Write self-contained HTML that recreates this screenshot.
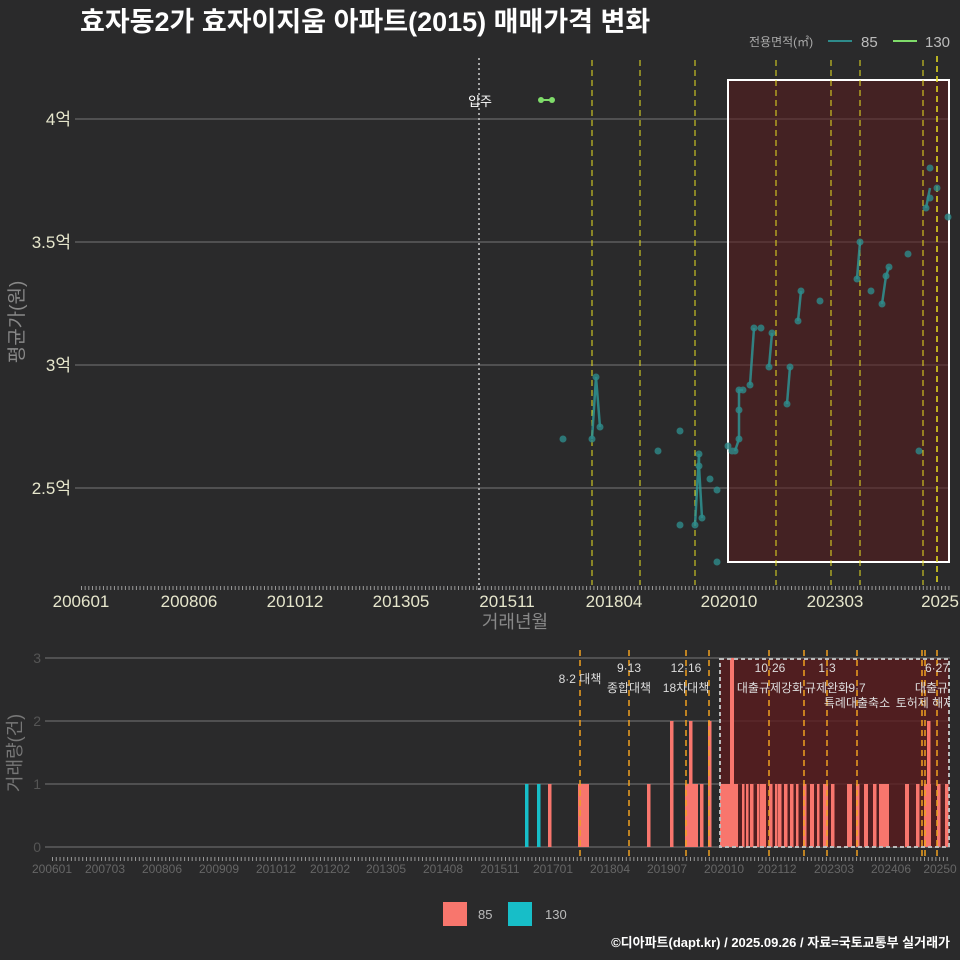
<!DOCTYPE html>
<html><head><meta charset="utf-8"><style>
html,body{margin:0;padding:0;background:#2a2a2b;}
svg{display:block;font-family:"Liberation Sans","Noto Sans CJK KR",sans-serif;}
</style></head><body>
<svg width="960" height="960" viewBox="0 0 960 960" xmlns="http://www.w3.org/2000/svg">
<rect width="960" height="960" fill="#2a2a2b"/>
<text x="80" y="31" fill="#fff" font-size="27" font-weight="bold">효자동2가 효자이지움 아파트(2015) 매매가격 변화</text>
<text x="749" y="46" fill="#aaa" font-size="12">전용면적(㎡)</text>
<line x1="828" y1="41" x2="852" y2="41" stroke="#2e8b8b" stroke-width="2"/>
<text x="861" y="47" fill="#bbb" font-size="15">85</text>
<line x1="893" y1="41" x2="917" y2="41" stroke="#7fdc6a" stroke-width="2"/>
<text x="925" y="47" fill="#bbb" font-size="15">130</text>

<g stroke="#777" stroke-width="1">
<line x1="80" y1="119" x2="950" y2="119"/><line x1="80" y1="242" x2="950" y2="242"/>
<line x1="80" y1="365" x2="950" y2="365"/><line x1="80" y1="488" x2="950" y2="488"/>
<line x1="75" y1="119" x2="80" y2="119"/><line x1="75" y1="242" x2="80" y2="242"/>
<line x1="75" y1="365" x2="80" y2="365"/><line x1="75" y1="488" x2="80" y2="488"/>
</g>
<g fill="#e6e6cc" font-size="17" text-anchor="end">
<text x="71" y="125">4억</text><text x="71" y="248">3.5억</text><text x="71" y="371">3억</text><text x="71" y="494">2.5억</text>
</g>
<rect x="728" y="80" width="221" height="482" fill="#5a1c1e" fill-opacity="0.55" stroke="#fff" stroke-width="2"/>
<line x1="479" y1="58" x2="479" y2="590" stroke="#ccc" stroke-width="1.5" stroke-dasharray="2,3"/>
<text x="492" y="106" fill="#fff" font-size="13" text-anchor="end">입주</text>
<g stroke="#e8e020" stroke-width="1" stroke-dasharray="6,4">
<line x1="592" y1="60" x2="592" y2="585"/><line x1="640" y1="60" x2="640" y2="585"/>
<line x1="695" y1="60" x2="695" y2="585"/><line x1="776" y1="60" x2="776" y2="585"/>
<line x1="831" y1="60" x2="831" y2="585"/><line x1="860" y1="60" x2="860" y2="585"/>
<line x1="923" y1="60" x2="923" y2="585"/><line x1="937" y1="56" x2="937" y2="585" stroke-width="1.5"/>
</g>
<line x1="541" y1="100" x2="552" y2="100" stroke="#7fdc6a" stroke-width="2"/>
<circle cx="541" cy="100" r="3" fill="#7fdc6a"/><circle cx="552" cy="100" r="3" fill="#7fdc6a"/>
<g stroke="#2e9a9a" stroke-width="2.5" fill="none" opacity="0.8">
<polyline points="592,439 596,377 600,427"/>
<polyline points="695,525 699,454 699,466 702,518"/>
<polyline points="735,451 739,439 739,410 739,390 743,390"/>
<polyline points="750,385 754,328"/><polyline points="769,367 772,333"/>
<polyline points="787,404 790,367"/><polyline points="798,321 801,291"/>
<polyline points="857,279 860,242"/><polyline points="882,304 886,276 889,267"/>
<polyline points="926,208 930,188"/>
</g>
<g fill="#2e8b8b" opacity="0.8">
<circle cx="563" cy="439" r="3.5"/><circle cx="592" cy="439" r="3.5"/><circle cx="596" cy="377" r="3.5"/><circle cx="600" cy="427" r="3.5"/>
<circle cx="658" cy="451" r="3.5"/><circle cx="680" cy="431" r="3.5"/><circle cx="680" cy="525" r="3.5"/>
<circle cx="695" cy="525" r="3.5"/><circle cx="699" cy="454" r="3.5"/><circle cx="699" cy="466" r="3.5"/><circle cx="702" cy="518" r="3.5"/>
<circle cx="710" cy="479" r="3.5"/><circle cx="717" cy="490" r="3.5"/><circle cx="717" cy="562" r="3.5"/>
<circle cx="728" cy="446" r="3.5"/><circle cx="732" cy="451" r="3.5"/><circle cx="735" cy="451" r="3.5"/><circle cx="739" cy="439" r="3.5"/>
<circle cx="739" cy="410" r="3.5"/><circle cx="739" cy="390" r="3.5"/><circle cx="743" cy="390" r="3.5"/>
<circle cx="750" cy="385" r="3.5"/><circle cx="754" cy="328" r="3.5"/><circle cx="761" cy="328" r="3.5"/>
<circle cx="769" cy="367" r="3.5"/><circle cx="772" cy="333" r="3.5"/><circle cx="787" cy="404" r="3.5"/><circle cx="790" cy="367" r="3.5"/>
<circle cx="798" cy="321" r="3.5"/><circle cx="801" cy="291" r="3.5"/><circle cx="820" cy="301" r="3.5"/>
<circle cx="857" cy="279" r="3.5"/><circle cx="860" cy="242" r="3.5"/><circle cx="871" cy="291" r="3.5"/>
<circle cx="882" cy="304" r="3.5"/><circle cx="886" cy="276" r="3.5"/><circle cx="889" cy="267" r="3.5"/>
<circle cx="908" cy="254" r="3.5"/><circle cx="919" cy="451" r="3.5"/><circle cx="926" cy="208" r="3.5"/>
<circle cx="930" cy="198" r="3.5"/><circle cx="930" cy="168" r="3.5"/><circle cx="937" cy="188" r="3.5"/><circle cx="948" cy="217" r="3.5"/>
</g>
<line x1="81" y1="588" x2="950" y2="588" stroke="#999" stroke-width="4" stroke-dasharray="1,2.66"/>
<g fill="#e6e6cc" font-size="17" text-anchor="middle">
<text x="81" y="607">200601</text><text x="189" y="607">200806</text><text x="295" y="607">201012</text>
<text x="401" y="607">201305</text><text x="507" y="607">201511</text><text x="614" y="607">201804</text>
<text x="729" y="607">202010</text><text x="835" y="607">202303</text><text x="940" y="607">2025</text>
</g>
<text x="515" y="628" fill="#888" font-size="18" text-anchor="middle">거래년월</text>
<text transform="translate(23,322) rotate(-90)" fill="#888" font-size="19" text-anchor="middle">평균가(원)</text>

<g stroke="#777" stroke-width="1">
<line x1="45" y1="658" x2="950" y2="658"/><line x1="45" y1="721" x2="950" y2="721"/>
<line x1="45" y1="784" x2="950" y2="784"/><line x1="45" y1="847" x2="950" y2="847"/>
</g>
<g fill="#555" font-size="14" text-anchor="end">
<text x="41" y="663">3</text><text x="41" y="726">2</text><text x="41" y="789">1</text><text x="41" y="852">0</text>
</g>
<rect x="720" y="659" width="229" height="188" fill="#5a1c1e" fill-opacity="0.8"/>
<g fill="#17bec8">
<rect x="525" y="784" width="3.5" height="63"/><rect x="537" y="784" width="3.5" height="63"/>
</g>
<g fill="#f8766d">
<rect x="548" y="784" width="3.5" height="63"/><rect x="578" y="784" width="11" height="63"/>
<rect x="647" y="784" width="3.5" height="63"/><rect x="670" y="721" width="3.5" height="126"/>
<rect x="685" y="784" width="13" height="63"/><rect x="689" y="721" width="3.5" height="126"/>
<rect x="700" y="784" width="3.5" height="63"/><rect x="708" y="721" width="3.5" height="126"/>
<rect x="720" y="784" width="18" height="63"/><rect x="730" y="658" width="4" height="189"/>
<rect x="742" y="784" width="2.5" height="63"/><rect x="746" y="784" width="2.5" height="63"/>
<rect x="750" y="784" width="3.5" height="63"/><rect x="757" y="784" width="2.5" height="63"/>
<rect x="760" y="784" width="6" height="63"/><rect x="769" y="784" width="3.5" height="63"/>
<rect x="775" y="784" width="2.5" height="63"/><rect x="778" y="784" width="3.5" height="63"/>
<rect x="784" y="784" width="3.5" height="63"/><rect x="790" y="784" width="3.5" height="63"/>
<rect x="796" y="784" width="2.5" height="63"/><rect x="803" y="784" width="3.5" height="63"/>
<rect x="810" y="784" width="4" height="63"/><rect x="817" y="784" width="2.5" height="63"/>
<rect x="823" y="784" width="5" height="63"/><rect x="831" y="784" width="3.5" height="63"/>
<rect x="847" y="784" width="5" height="63"/><rect x="856" y="784" width="3.5" height="63"/>
<rect x="864" y="784" width="4" height="63"/><rect x="873" y="784" width="3.5" height="63"/>
<rect x="879" y="784" width="10" height="63"/><rect x="905" y="784" width="4" height="63"/>
<rect x="916" y="784" width="3.5" height="63"/><rect x="924" y="784" width="7" height="63"/>
<rect x="927" y="721" width="3.5" height="126"/><rect x="937" y="784" width="3.5" height="63"/>
<rect x="945" y="784" width="3.5" height="63"/>
</g>
<rect x="720" y="659" width="229" height="188" fill="none" stroke="#bbb" stroke-width="2" stroke-dasharray="4,3"/>
<g stroke="#f0a020" stroke-width="1.5" stroke-dasharray="6,4">
<line x1="580" y1="650" x2="580" y2="858"/><line x1="629" y1="650" x2="629" y2="858"/>
<line x1="686" y1="650" x2="686" y2="858"/><line x1="709" y1="650" x2="709" y2="858"/>
<line x1="769" y1="650" x2="769" y2="858"/><line x1="804" y1="650" x2="804" y2="858"/>
<line x1="827" y1="650" x2="827" y2="858"/><line x1="857" y1="650" x2="857" y2="858"/>
<line x1="922" y1="650" x2="922" y2="858"/><line x1="925" y1="650" x2="925" y2="858"/>
<line x1="937" y1="650" x2="937" y2="858"/>
</g>
<g fill="#ddd" font-size="12" text-anchor="middle">
<text x="580" y="683">8·2 대책</text>
<text x="629" y="672">9·13</text><text x="629" y="692">종합대책</text>
<text x="686" y="672">12·16</text><text x="686" y="692">18차대책</text>
<text x="770" y="672">10·26</text><text x="770" y="692">대출규제강화</text>
<text x="827" y="672">1·3</text><text x="827" y="692">규제완화</text>
<text x="857" y="692">9·7</text><text x="857" y="707">특례대출축소</text>
<text x="925" y="707">토허제 해제</text>
<text x="937" y="672">6·27</text><text x="937" y="692">대출규제</text>
</g>
<rect x="950" y="640" width="10" height="230" fill="#2a2a2b"/>
<line x1="52" y1="859" x2="950" y2="859" stroke="#999" stroke-width="4" stroke-dasharray="1,2.775"/>
<g fill="#666" font-size="12" text-anchor="middle">
<text x="52" y="873">200601</text><text x="105" y="873">200703</text><text x="162" y="873">200806</text>
<text x="219" y="873">200909</text><text x="276" y="873">201012</text><text x="330" y="873">201202</text>
<text x="386" y="873">201305</text><text x="443" y="873">201408</text><text x="500" y="873">201511</text>
<text x="553" y="873">201701</text><text x="610" y="873">201804</text><text x="667" y="873">201907</text>
<text x="724" y="873">202010</text><text x="777" y="873">202112</text><text x="834" y="873">202303</text>
<text x="891" y="873">202406</text><text x="940" y="873">20250</text>
</g>
<text transform="translate(21,753) rotate(-90)" fill="#777" font-size="18" text-anchor="middle">거래량(건)</text>
<rect x="443" y="902" width="24" height="24" fill="#f8766d"/>
<text x="478" y="919" fill="#bbb" font-size="13">85</text>
<rect x="508" y="902" width="24" height="24" fill="#17bec8"/>
<text x="545" y="919" fill="#bbb" font-size="13">130</text>
<text x="950" y="947" fill="#fff" font-size="13" font-weight="bold" text-anchor="end">©디아파트(dapt.kr) / 2025.09.26 / 자료=국토교통부 실거래가</text>
</svg>
</body></html>
